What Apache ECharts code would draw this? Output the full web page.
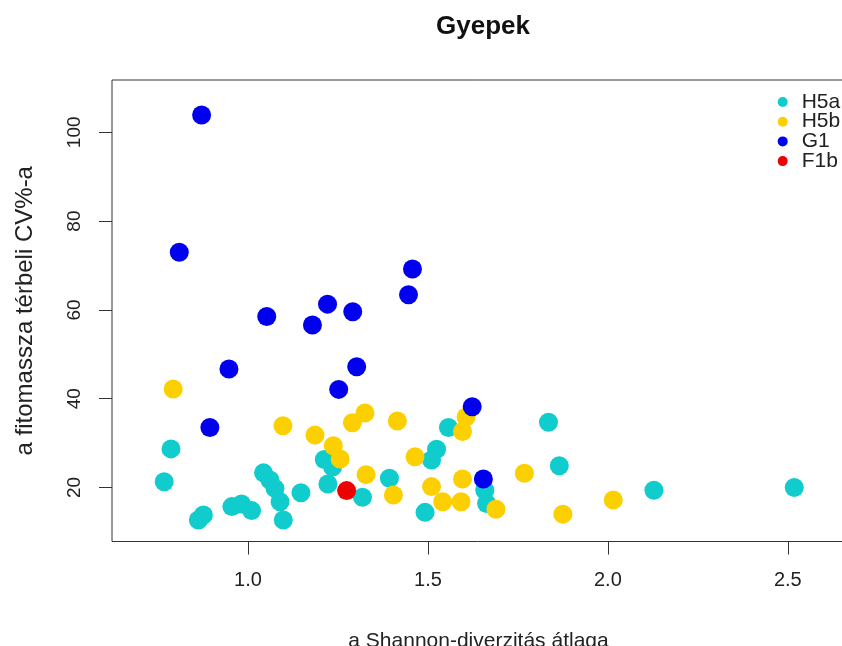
<!DOCTYPE html>
<html>
<head>
<meta charset="utf-8">
<script src="https://cdn.jsdelivr.net/npm/echarts@6.0.0/dist/echarts.min.js"></script>
<style>
  html, body { margin: 0; padding: 0; background: #fff; }
  #chart { width: 842px; height: 646px; }
</style>
</head>
<body>
<div id="chart"></div>
<script>
// ---- data ----
const seriesNames = ['H5a', 'H5b', 'G1', 'F1b'];
const seriesColors = ['#10CCCC', '#FCD000', '#0000EE', '#EE0000'];

const h5aX = [0.767, 0.786, 0.862, 0.876, 0.955, 0.982, 1.010, 1.043, 1.061, 1.075, 1.089, 1.098, 1.147, 1.212, 1.235, 1.222, 1.318, 1.393, 1.492, 1.510, 1.524, 1.557, 1.658, 1.663, 1.835, 1.865, 2.128, 2.518];
const h5aY = [21.3, 28.7, 12.7, 13.8, 15.7, 16.3, 14.8, 23.3, 21.7, 19.8, 16.8, 12.7, 18.8, 26.3, 24.6, 20.8, 17.8, 22.1, 14.4, 26.2, 28.6, 33.5, 19.4, 16.4, 34.7, 24.9, 19.4, 20.0];

const h5bX = [0.792, 1.097, 1.186, 1.237, 1.256, 1.290, 1.325, 1.328, 1.404, 1.415, 1.464, 1.510, 1.541, 1.592, 1.596, 1.596, 1.606, 1.689, 1.768, 1.875, 2.015];
const h5bY = [42.2, 33.9, 31.8, 29.4, 26.4, 34.6, 36.8, 22.9, 18.3, 35.0, 26.9, 20.2, 16.8, 16.8, 21.9, 32.6, 35.9, 15.1, 23.2, 14.0, 17.2];

const g1X = [0.871, 0.809, 0.894, 0.947, 1.052, 1.179, 1.221, 1.291, 1.302, 1.252, 1.446, 1.457, 1.623, 1.654];
const g1Y = [103.9, 73.0, 33.5, 46.7, 58.5, 56.6, 61.3, 59.6, 47.2, 42.1, 63.4, 69.2, 38.2, 21.9];

const f1bX = [1.274];
const f1bY = [19.3];

const xTicks = [1.0, 1.5, 2.0, 2.5];
const yTicks = [20, 40, 60, 80, 100];

const chartTitle = 'Gyepek';
const xTitle = 'a Shannon-diverzitás átlaga';
const yTitle = 'a fitomassza térbeli CV%-a';

// ---- build ----
function zip(xs, ys) { return xs.map((x, i) => [x, ys[i]]); }
const allX = [h5aX, h5bX, g1X, f1bX];
const allY = [h5aY, h5bY, g1Y, f1bY];

const FONT = '"Liberation Sans", Arial, sans-serif';
const chart = echarts.init(document.getElementById('chart'), null, { renderer: 'canvas' });

const option = {
  backgroundColor: '#ffffff',
  animation: false,
  title: {
    text: chartTitle,
    left: 478,
    top: 9,
    textAlign: 'center',
    textStyle: { fontFamily: FONT, fontSize: 26, fontWeight: 'bold', color: '#111' }
  },
  legend: {
    orient: 'vertical',
    left: 777.7,
    top: 91.5,
    icon: 'circle',
    itemWidth: 28,
    itemHeight: 10,
    itemGap: -1.3,
    padding: 0,
    textStyle: { fontFamily: FONT, fontSize: 21, lineHeight: 19, color: '#222', padding: [0, 0, 0, 0] },
    data: seriesNames
  },
  grid: {
    left: 112,
    top: 80,
    right: -3,
    bottom: 104.5,
    show: true,
    borderColor: '#333',
    borderWidth: 1,
    backgroundColor: 'transparent',
    containLabel: false,
    outerBoundsMode: 'none'
  },
  xAxis: {
    type: 'value',
    min: 0.622,
    max: 2.659,
    name: xTitle,
    nameLocation: 'middle',
    nameGap: 89,
    nameTextStyle: { fontFamily: FONT, fontSize: 21, color: '#222' },
    axisLine: { show: false },
    splitLine: { show: false },
    axisTick: { show: true, inside: false, length: 13, lineStyle: { color: '#333', width: 1 }, customValues: xTicks },
    axisLabel: {
      fontFamily: FONT, fontSize: 20, color: '#222', margin: 29,
      customValues: xTicks,
      formatter: v => v.toFixed(1)
    }
  },
  yAxis: {
    type: 'value',
    min: 7.84,
    max: 111.78,
    name: yTitle,
    nameLocation: 'middle',
    nameGap: 75,
    nameRotate: 90,
    nameTextStyle: { fontFamily: FONT, fontSize: 24, color: '#222' },
    axisLine: { show: false },
    splitLine: { show: false },
    axisTick: { show: true, inside: false, length: 13, lineStyle: { color: '#333', width: 1 }, customValues: yTicks },
    axisLabel: {
      fontFamily: FONT, fontSize: 19, color: '#222', margin: 28, rotate: 90,
      customValues: yTicks
    }
  },
  series: seriesNames.map((name, i) => ({
    name: name,
    type: 'scatter',
    symbol: 'circle',
    symbolSize: 19,
    itemStyle: { color: seriesColors[i], opacity: 1 },
    emphasis: { disabled: true },
    z: 2 + i,
    data: zip(allX[i], allY[i])
  }))
};
chart.setOption(option);
</script>
</body>
</html>
